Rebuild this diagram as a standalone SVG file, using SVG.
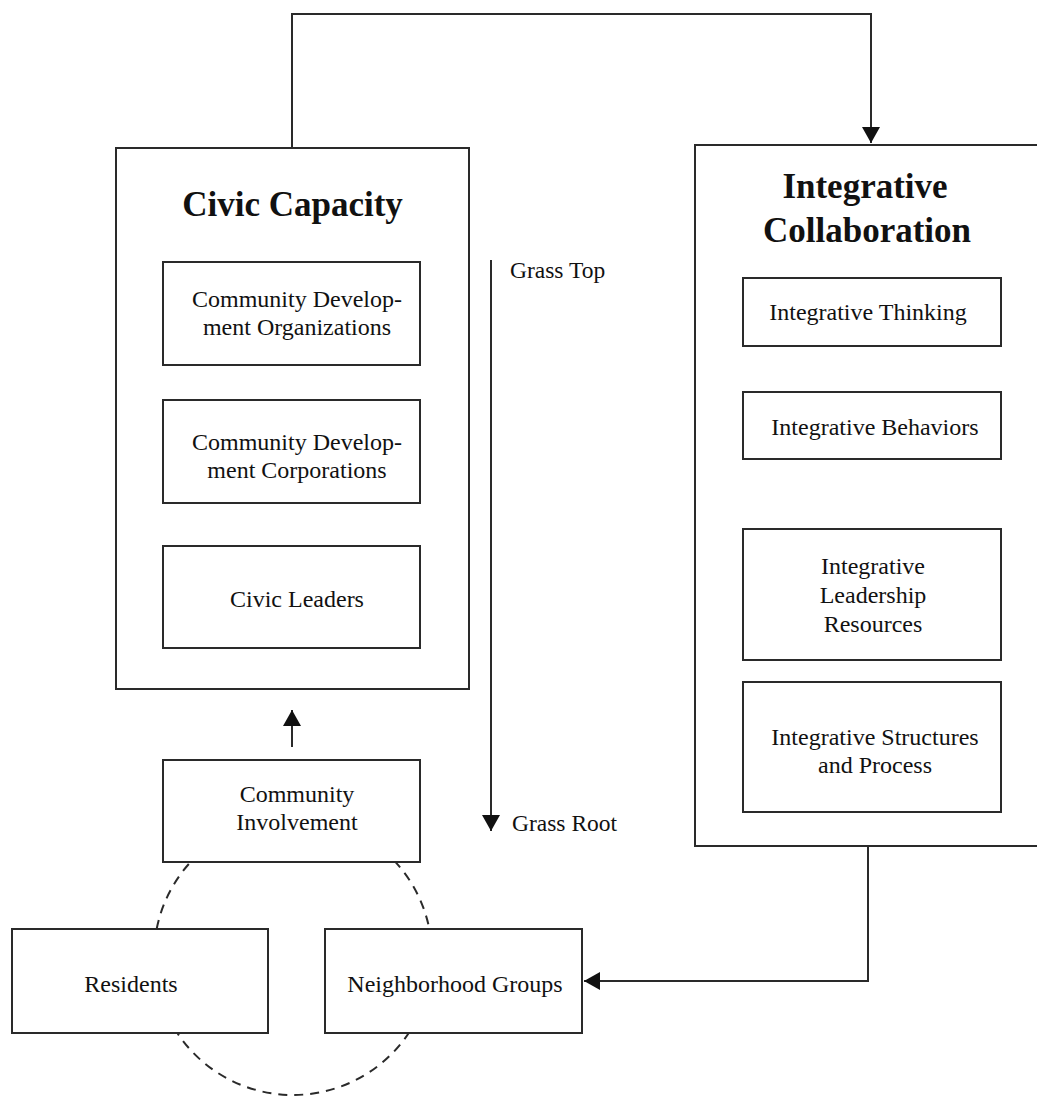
<svg xmlns="http://www.w3.org/2000/svg" width="1037" height="1099" viewBox="0 0 1037 1099">
<style>
  .box{fill:#fff;stroke:#2a2a2a;stroke-width:2}
  .line{fill:none;stroke:#2a2a2a;stroke-width:2}
  .dash{fill:none;stroke:#2a2a2a;stroke-width:2;stroke-dasharray:9 7}
  .t{font-family:"Liberation Serif","Times New Roman",serif;font-size:24px;fill:#111;text-anchor:middle}
  .ts{font-family:"Liberation Serif","Times New Roman",serif;font-size:23.5px;fill:#111}
  .title{font-family:"Liberation Serif","Times New Roman",serif;font-size:35px;font-weight:bold;fill:#111;text-anchor:middle}
</style>
<defs>
  <marker id="arr" markerUnits="userSpaceOnUse" viewBox="0 0 16 18" refX="16" refY="9" markerWidth="16" markerHeight="18" orient="auto">
    <path d="M0,0 L16,9 L0,18 z" fill="#111"/>
  </marker>
</defs>
<rect width="1037" height="1099" fill="#fff"/>

<g id="dashed-circle">
  <circle class="dash" cx="293" cy="956" r="139"/>
</g>

<g id="connectors">
  <path class="line" d="M292,148 V14 H871 V143" marker-end="url(#arr)"/>
  <path class="line" d="M868,846 V981 H584" marker-end="url(#arr)"/>
  <path class="line" d="M292,747 V710" marker-end="url(#arr)"/>
  <path class="line" d="M491,260 V831" marker-end="url(#arr)"/>
</g>

<g id="civic-capacity">
  <rect class="box" x="116" y="148" width="353" height="541"/>
  <text class="title" x="292.5" y="216">Civic Capacity</text>
</g>
<g id="cd-organizations">
  <rect class="box" x="163" y="262" width="257" height="103"/>
  <text class="t" x="297" y="307">Community Develop-</text>
  <text class="t" x="297" y="335">ment Organizations</text>
</g>
<g id="cd-corporations">
  <rect class="box" x="163" y="400" width="257" height="103"/>
  <text class="t" x="297" y="450">Community Develop-</text>
  <text class="t" x="297" y="478">ment Corporations</text>
</g>
<g id="civic-leaders">
  <rect class="box" x="163" y="546" width="257" height="102"/>
  <text class="t" x="297" y="607">Civic Leaders</text>
</g>
<g id="community-involvement">
  <rect class="box" x="163" y="760" width="257" height="102"/>
  <text class="t" x="297" y="802">Community</text>
  <text class="t" x="297" y="830">Involvement</text>
</g>
<g id="residents">
  <rect class="box" x="12" y="929" width="256" height="104"/>
  <text class="t" x="131" y="992">Residents</text>
</g>
<g id="neighborhood-groups">
  <rect class="box" x="325" y="929" width="257" height="104"/>
  <text class="t" x="455" y="992">Neighborhood Groups</text>
</g>

<g id="grass-labels">
  <text class="ts" x="510" y="278">Grass Top</text>
  <text class="ts" x="512" y="831">Grass Root</text>
</g>

<g id="integrative-collaboration">
  <rect class="box" x="695" y="145" width="350" height="701"/>
  <text class="title" x="865" y="198">Integrative</text>
  <text class="title" x="867" y="242">Collaboration</text>
</g>
<g id="integrative-thinking">
  <rect class="box" x="743" y="278" width="258" height="68"/>
  <text class="t" x="868" y="320">Integrative Thinking</text>
</g>
<g id="integrative-behaviors">
  <rect class="box" x="743" y="392" width="258" height="67"/>
  <text class="t" x="875" y="435">Integrative Behaviors</text>
</g>
<g id="integrative-leadership">
  <rect class="box" x="743" y="529" width="258" height="131"/>
  <text class="t" x="873" y="574">Integrative</text>
  <text class="t" x="873" y="603">Leadership</text>
  <text class="t" x="873" y="632">Resources</text>
</g>
<g id="integrative-structures">
  <rect class="box" x="743" y="682" width="258" height="130"/>
  <text class="t" x="875" y="745">Integrative Structures</text>
  <text class="t" x="875" y="773">and Process</text>
</g>
</svg>
